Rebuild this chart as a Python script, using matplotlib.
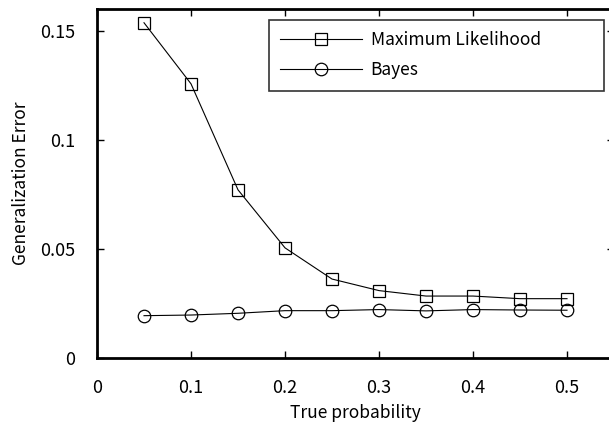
import matplotlib
matplotlib.use("Agg")
import matplotlib.pyplot as plt

plt.rcParams['font.family'] = ['Noto Sans CJK JP', 'DejaVu Sans']

# data
p = [0.05, 0.10, 0.15, 0.20, 0.25, 0.30, 0.35, 0.40, 0.45, 0.50]
ml_err = [0.1537, 0.1257, 0.0771, 0.0505, 0.0362, 0.0309, 0.0284, 0.0284, 0.0272, 0.0272]
bayes_err = [0.0194, 0.0197, 0.0205, 0.0217, 0.0217, 0.0222, 0.0216, 0.0222, 0.0220, 0.0219]
xticks = [0, 0.1, 0.2, 0.3, 0.4, 0.5]
xtick_labels = ['0', '0.1', '0.2', '0.3', '0.4', '0.5']
yticks = [0, 0.05, 0.1, 0.15]
ytick_labels = ['0', '0.05', '0.1', '0.15']

fig = plt.figure(figsize=(6.09, 4.28), dpi=100)
ax = fig.add_axes([97/609, 1 - 358/428, 517/609, 349/428])

ax.plot(p, ml_err, color='black', lw=0.8, marker='s', ms=8,
        mfc='none', mec='black', mew=0.9, label='Maximum Likelihood')
ax.plot(p, bayes_err, color='black', lw=0.8, marker='o', ms=9,
        mfc='none', mec='black', mew=0.9, label='Bayes')

ax.set_xlim(0, 0.55)
ax.set_ylim(0, 0.16)
ax.set_xticks(xticks)
ax.set_xticklabels(xtick_labels)
ax.set_yticks(yticks)
ax.set_yticklabels(ytick_labels)
ax.tick_params(direction='in', length=5, width=1, top=True, right=True,
               labelsize=13)
ax.tick_params(axis='x', pad=15)
ax.tick_params(axis='y', pad=16)
for s in ax.spines.values():
    s.set_linewidth(2)

ax.set_xlabel('True probability', fontsize=12.5, labelpad=5)
ax.set_ylabel('Generalization Error', fontsize=12.5, labelpad=7)

leg = ax.legend(loc='upper left', bbox_to_anchor=(0.3327, 0.0, 0.648, 0.9685),
                mode='expand', borderaxespad=0, fontsize=12.5,
                frameon=True, fancybox=False, edgecolor='black',
                handlelength=4.7, handletextpad=0.5, borderpad=0.65,
                labelspacing=0.7)
leg.get_frame().set_linewidth(1.2)

fig.savefig('out.png', dpi=100)
